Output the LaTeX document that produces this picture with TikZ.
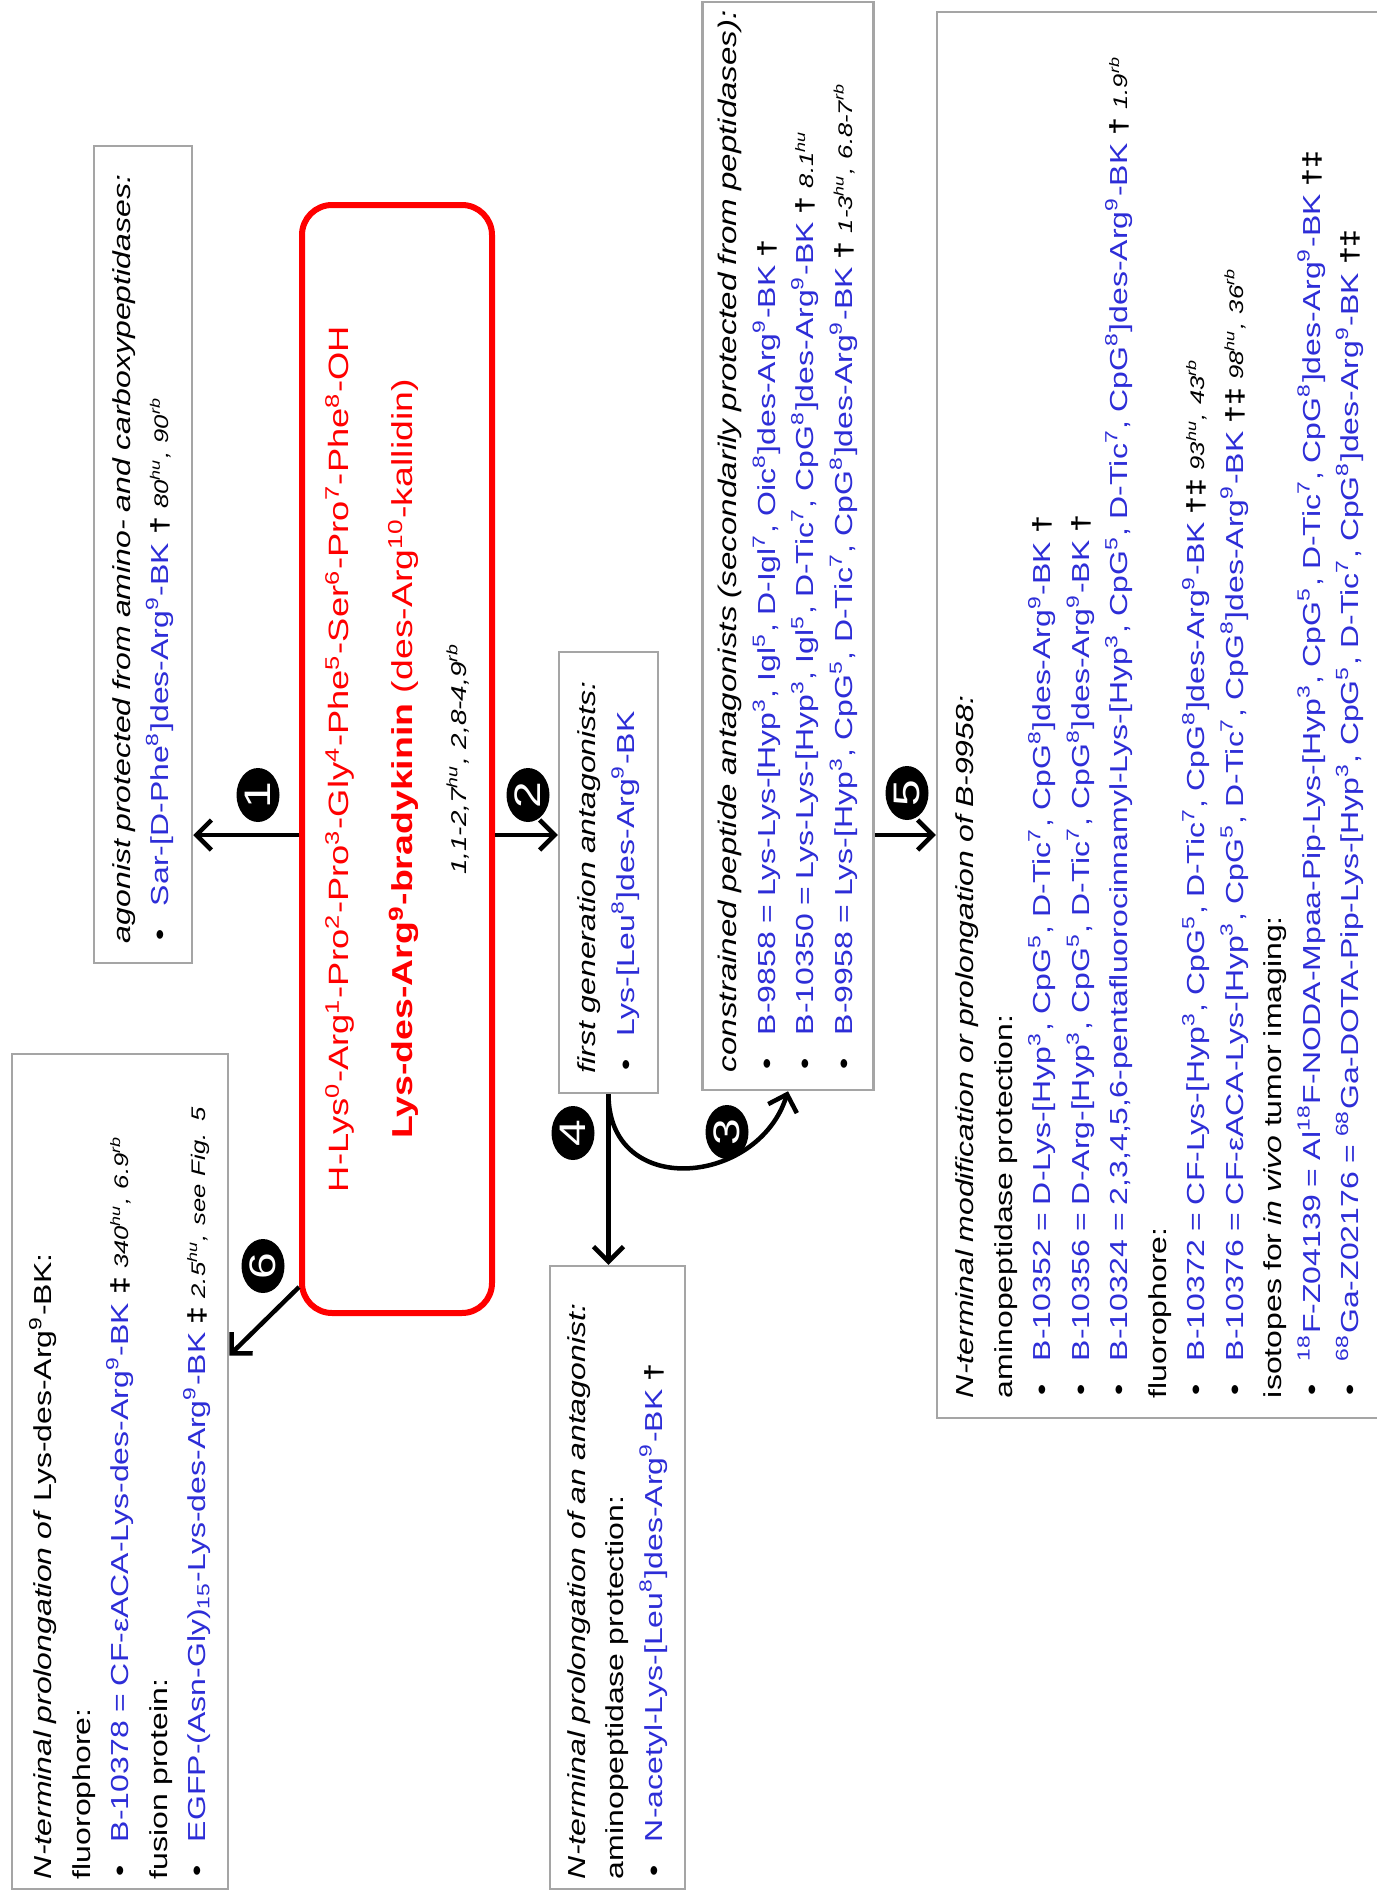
\documentclass[tikz,border=0pt]{standalone}
\usepackage{fontspec}
\setmainfont{Liberation Sans}[FakeStretch=1.3]
\usepackage{tikz}
\usetikzlibrary{arrows.meta, shapes.geometric}
\usepackage{xcolor}

\definecolor{pepblue}{RGB}{45,45,215}
\definecolor{boxgray}{RGB}{165,165,165}

\newcommand{\sups}[1]{\textsuperscript{#1}}
\newcommand{\pep}[1]{\textcolor{pepblue}{#1}}
\newcommand{\dg}{\textbf{\textdagger}}
\newcommand{\ddg}{\textbf{\textdaggerdbl}}
\newcommand{\val}[1]{{\itshape\fontsize{5.6}{6}\selectfont #1}}
\newcommand{\itm}{\hspace*{0.3mm}\makebox[3.4mm][l]{\textbullet}}

\tikzset{
  infobox/.style={draw=boxgray, line width=0.25mm, rotate=90, align=left,
    inner xsep=2mm, inner ysep=0pt, font=\fontsize{7}{10.95}\selectfont},
  bkbox/.style={draw=red, line width=0.6mm, rounded corners=3mm, rotate=90,
    align=center, text=red, font=\fontsize{8.2}{18.2}\selectfont},
  numdot/.style={ellipse, fill=black, text=white, rotate=90, inner sep=0pt,
    minimum width=5.4mm, minimum height=4.3mm, font=\fontsize{10.5}{10.5}\selectfont},
  conn/.style={->, line width=0.45mm}
}

\begin{document}
\begin{tikzpicture}[x=0.1mm, y=-0.1mm, >={Straight Barb[length=1.5mm, width=3mm]}]
    \useasboundingbox (0,0) rectangle (1377,1898);

    % Lys-des-Arg9-BK i midten
    \node[bkbox, minimum width=110.8mm, minimum height=19mm] (bk) at (397,759)
      {\fontsize{7.95}{18.2}\selectfont H-Lys\sups{0}-Arg\sups{1}-Pro\sups{2}-Pro\sups{3}-Gly\sups{4}-Phe\sups{5}-Ser\sups{6}-Pro\sups{7}-Phe\sups{8}-OH\\
       \fontsize{8.2}{18.2}\selectfont \textbf{Lys-des-Arg\sups{9}-bradykinin} (des-Arg\sups{10}-kallidin)\\[-3pt]
       {\color{black}\itshape\fontsize{6.1}{7}\selectfont 1,1-2,7\sups{hu}, 2,8-4,9\sups{rb}}};

    % Bokser rundt
    \node[infobox, text width=77.7mm, minimum height=9.8mm] (box1) at (143,554.5)
      {\textit{agonist protected from amino- and carboxypeptidases:}\\
       \itm\pep{Sar-[D-Phe\sups{8}]des-Arg\sups{9}-BK} \dg\ \val{80\sups{hu}, 90\sups{rb}}};

    \node[infobox, text width=40.1mm, minimum height=9.9mm] (box2) at (608.5,872.5)
      {\textit{first generation antagonists:}\\
       \itm\pep{Lys-[Leu\sups{8}]des-Arg\sups{9}-BK}};

    \node[infobox, inner xsep=1.8mm, text width=105.2mm, minimum height=17.1mm] (box3) at (788,546)
      {\mbox{\fontsize{7.25}{10.95}\selectfont\itshape constrained peptide antagonists (secondarily protected from peptidases):}\\
       \itm\pep{B-9858 = Lys-Lys-[Hyp\sups{3}, Igl\sups{5}, D-Igl\sups{7}, Oic\sups{8}]des-Arg\sups{9}-BK} \dg\\
       \itm\pep{B-10350 = Lys-Lys-[Hyp\sups{3}, Igl\sups{5}, D-Tic\sups{7}, CpG\sups{8}]des-Arg\sups{9}-BK} \dg\ \val{8.1\sups{hu}}\\
       \itm\pep{B-9958 = Lys-[Hyp\sups{3}, CpG\sups{5}, D-Tic\sups{7}, CpG\sups{8}]des-Arg\sups{9}-BK} \dg\ \val{1-3\sups{hu}, 6.8-7\sups{rb}}};

    \node[infobox, inner xsep=1mm, text width=60.3mm, minimum height=13.5mm] (box4) at (617.5,1577.5)
      {\textit{N-terminal prolongation of an antagonist:}\\
       aminopeptidase protection:\\
       \itm\pep{N-acetyl-Lys-[Leu\sups{8}]des-Arg\sups{9}-BK} \dg};

    \node[infobox, text width=136.6mm, minimum height=44.6mm] (box5) at (1160,715)
      {\textit{N-terminal modification or prolongation of B-9958:}\\
       aminopeptidase protection:\\
       \itm\pep{B-10352 = D-Lys-[Hyp\sups{3}, CpG\sups{5}, D-Tic\sups{7}, CpG\sups{8}]des-Arg\sups{9}-BK} \dg\\
       \itm\pep{B-10356 = D-Arg-[Hyp\sups{3}, CpG\sups{5}, D-Tic\sups{7}, CpG\sups{8}]des-Arg\sups{9}-BK} \dg\\
       \itm\pep{B-10324 = 2,3,4,5,6-pentafluorocinnamyl-Lys-[Hyp\sups{3}, CpG\sups{5}, D-Tic\sups{7}, CpG\sups{8}]des-Arg\sups{9}-BK} \dg\ \val{1.9\sups{rb}}\\
       fluorophore:\\
       \itm\pep{B-10372 = CF-Lys-[Hyp\sups{3}, CpG\sups{5}, D-Tic\sups{7}, CpG\sups{8}]des-Arg\sups{9}-BK} \dg\ddg\ \val{93\sups{hu}, 43\sups{rb}}\\
       \itm\pep{B-10376 = CF-εACA-Lys-[Hyp\sups{3}, CpG\sups{5}, D-Tic\sups{7}, CpG\sups{8}]des-Arg\sups{9}-BK} \dg\ddg\ \val{98\sups{hu}, 36\sups{rb}}\\
       isotopes for \textit{in vivo} tumor imaging:\\
       \itm\pep{\sups{18}F-Z04139 = Al\sups{18}F-NODA-Mpaa-Pip-Lys-[Hyp\sups{3}, CpG\sups{5}, D-Tic\sups{7}, CpG\sups{8}]des-Arg\sups{9}-BK} \dg\ddg\\
       \itm\pep{\sups{68}Ga-Z02176 = \sups{68}Ga-DOTA-Pip-Lys-[Hyp\sups{3}, CpG\sups{5}, D-Tic\sups{7}, CpG\sups{8}]des-Arg\sups{9}-BK} \dg\ddg};

    \node[infobox, inner xsep=1mm, text width=81.5mm, minimum height=21.6mm] (box6) at (120,1471.5)
      {\textit{N-terminal prolongation of} Lys-des-Arg\sups{9}-BK:\\
       fluorophore:\\
       \itm\pep{B-10378 = CF-εACA-Lys-des-Arg\sups{9}-BK} \ddg\ \val{340\sups{hu}, 6.9\sups{rb}}\\
       fusion protein:\\
       \itm\pep{EGFP-(Asn-Gly)\textsubscript{15}-Lys-des-Arg\sups{9}-BK} \ddg\ \val{2.5\sups{hu}, see Fig. 5}};

    % Piler
    \coordinate (mid) at (0,835);
    \draw[conn] (bk.north |- mid) -- (box1.south |- mid);
    \draw[conn] (bk.south |- mid) -- (box2.north |- mid);
    \draw[conn] (box3.south |- mid) -- (box5.north |- mid);
    \draw[conn] (box2.west) -- (box2.west |- box4.east);
    \draw[conn] (box2.west) .. controls +(0,105) and +(-30,95) .. (box3.west);
    \draw[conn] ([yshift=2.9mm]bk.north west) -- ([yshift=11.6mm]box6.south);

    % Nummererte prikker
    \node[numdot] (c1) at (258,795) {1};
    \node[numdot] (c2) at (528,795) {2};
    \node[numdot] (c3) at (727,1132) {3};
    \node[numdot] (c4) at (573,1133) {4};
    \node[numdot] (c5) at (907,793) {5};
    \node[numdot] (c6) at (263,1266) {6};
\end{tikzpicture}
\end{document}
